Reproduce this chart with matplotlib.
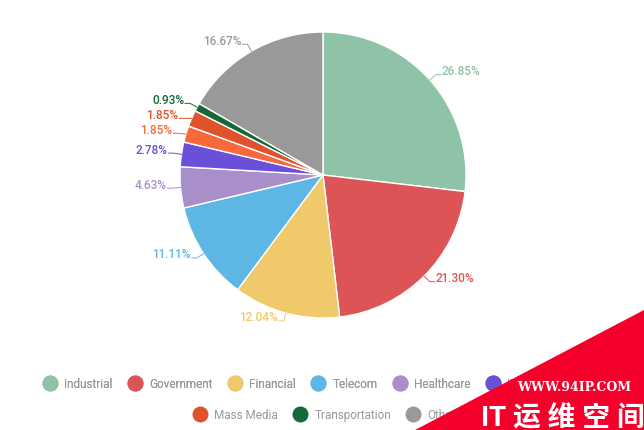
import numpy as np
import matplotlib.pyplot as plt
from matplotlib.lines import Line2D
from matplotlib.patches import Polygon

plt.rcParams['font.family'] = ['Roboto', 'Noto Sans CJK SC', 'DejaVu Sans']

sectors = ['Industrial', 'Government', 'Financial', 'Telecom', 'Healthcare',
           'IT', 'Education', 'Mass Media', 'Transportation', 'Other']
shares = [26.85, 21.30, 12.04, 11.11, 4.63, 2.78, 1.85, 1.85, 0.93, 16.67]
colors = ['#8fc3a7', '#dd5456', '#f0ca6a', '#5eb6e4', '#a98fc9',
          '#6a4fd9', '#f7693b', '#e0522b', '#13693a', '#999999']

W, H = 644, 431
fig = plt.figure(figsize=(W / 100, H / 100), dpi=100)
ax = fig.add_axes([0, 0, 1, 1])

cx, cy, r = 323, H - 176, 143
wedges, _ = ax.pie(shares, colors=colors, startangle=90, counterclock=False,
                   center=(cx, cy), radius=r,
                   wedgeprops=dict(edgecolor='white', linewidth=1))
ax.set_xlim(0, W)
ax.set_ylim(0, H)
ax.set_aspect('equal')
ax.axis('off')

# label anchors outside the pie, spread apart on each side
labels = []
for w, val, col in zip(wedges, shares, colors):
    a = np.deg2rad((w.theta1 + w.theta2) / 2)
    ex, ey = cx + r * np.cos(a), cy + r * np.sin(a)
    bx, by = cx + (r + 8) * np.cos(a), cy + (r + 8) * np.sin(a)
    labels.append([ex, ey, bx, by, np.cos(a) >= 0, val, col])

for side in (True, False):
    grp = sorted([l for l in labels if l[4] == side], key=lambda l: -l[3])
    for prev, cur in zip(grp, grp[1:]):
        if prev[3] - cur[3] < 15:
            cur[3] = prev[3] - 15

for ex, ey, bx, by, right, val, col in labels:
    s = 1 if right else -1
    ax.plot([ex, bx, bx + s * 5], [ey, by, by], color=col, lw=0.7)
    ax.text(bx + s * 6, by + 4, f'{val:.2f}%', color=col, fontsize=8.5,
            fontweight='medium', ha='left' if right else 'right', va='center')

# legend in two centred rows
handles = [Line2D([], [], marker='o', ls='', markersize=10.5, color=c) for c in colors]
leg1 = fig.legend(handles[:7], sectors[:7], loc='center', ncol=7,
                  bbox_to_anchor=(0.5, 1 - 385 / H), frameon=False,
                  fontsize=8.5, labelcolor='#999999', handletextpad=0.2,
                  columnspacing=0.9)
fig.legend(handles[7:], sectors[7:], loc='center', ncol=3,
           bbox_to_anchor=(0.5, 1 - 416 / H), frameon=False,
           fontsize=8.5, labelcolor='#999999', handletextpad=0.2,
           columnspacing=0.9)
fig.add_artist(leg1)

# site watermark in the lower right corner
fig.add_artist(Polygon([(415 / W, 0), (1, 0), (1, 1 - 311 / H)], closed=True,
                       transform=fig.transFigure, facecolor='#f5002a',
                       edgecolor='none', zorder=10))
fig.text(574 / W, 1 - 388 / H, 'WWW.94IP.COM', color='white', fontsize=9,
         fontweight='bold', family='DejaVu Serif', ha='center', va='center',
         zorder=11)
fig.text(563 / W, 1 - 418 / H, 'IT 运 维 空 间', color='white', fontsize=20,
         fontweight='bold', ha='center', va='center', zorder=11)

fig.savefig('out.png', dpi=100)
